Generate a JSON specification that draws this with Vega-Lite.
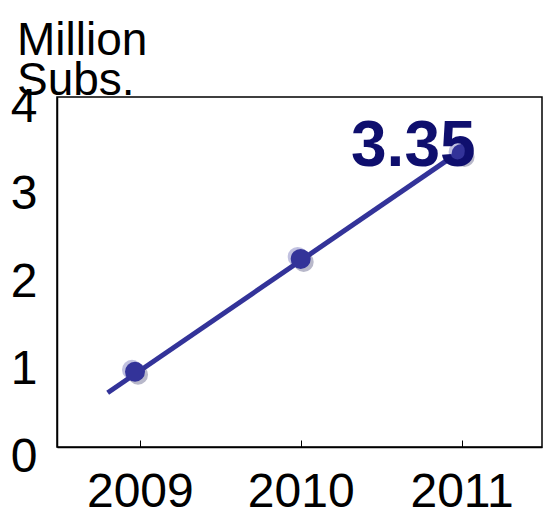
{
  "$schema": "https://vega.github.io/schema/vega-lite/v6.json",
  "width": 485,
  "height": 350,
  "autosize": {"type": "none"},
  "padding": {"left": 57, "top": 97, "right": 1, "bottom": 64},
  "background": "white",
  "config": {
    "font": "Liberation Sans",
    "view": {"stroke": "black", "strokeWidth": 1.5},
    "axis": {"grid": false, "labelColor": "black", "domainColor": "black", "tickColor": "black", "labelFont": "Liberation Sans"}
  },
  "title": {
    "text": ["Million", "Subs."],
    "anchor": "start",
    "frame": "group",
    "fontSize": 46,
    "fontWeight": "normal",
    "font": "Liberation Sans",
    "lineHeight": 40,
    "baseline": "bottom",
    "dx": -40,
    "offset": -68,
    "color": "black"
  },
  "datasets": {
    "pts": [
      {"year": 2008.97, "subs": 0.86},
      {"year": 2010, "subs": 2.15},
      {"year": 2011, "subs": 3.35}
    ],
    "fit": [
      {"year": 2008.8, "subs": 0.62},
      {"year": 2011, "subs": 3.39}
    ],
    "lbl": [
      {"year": 2011, "subs": 3.35, "label": "3.35"}
    ]
  },
  "layer": [
    {
      "data": {"name": "fit"},
      "mark": {"type": "line", "color": "#333399", "strokeWidth": 5, "strokeCap": "butt"},
      "encoding": {
        "x": {"field": "year", "type": "quantitative", "scale": {"domain": [2008.485, 2011.5], "nice": false, "zero": false},
          "axis": {"values": [2009, 2010, 2011], "format": "d", "title": null, "labelFontSize": 48, "tickSize": -7, "tickWidth": 1, "labelPadding": 28, "domainWidth": 1.5, "labelFlush": false}},
        "y": {"field": "subs", "type": "quantitative", "scale": {"domain": [0, 4], "nice": false},
          "axis": {"values": [0, 1, 2, 3, 4], "format": "d", "title": null, "labelFontSize": 48, "ticks": false, "labelPadding": 20, "labelOffset": 10, "domainWidth": 1.5, "labelFlush": false}}
      }
    },
    {
      "data": {"name": "pts"},
      "mark": {"type": "circle", "color": "#333399", "opacity": 0.3, "size": 400, "xOffset": -3, "yOffset": -2},
      "encoding": {
        "x": {"field": "year", "type": "quantitative"},
        "y": {"field": "subs", "type": "quantitative"}
      }
    },
    {
      "data": {"name": "pts"},
      "mark": {"type": "circle", "color": "#333366", "opacity": 0.35, "size": 400, "xOffset": 3, "yOffset": 3},
      "encoding": {
        "x": {"field": "year", "type": "quantitative"},
        "y": {"field": "subs", "type": "quantitative"}
      }
    },
    {
      "data": {"name": "pts"},
      "mark": {"type": "circle", "color": "#333399", "opacity": 1, "size": 400},
      "encoding": {
        "x": {"field": "year", "type": "quantitative"},
        "y": {"field": "subs", "type": "quantitative"}
      }
    },
    {
      "data": {"name": "lbl"},
      "mark": {"type": "text", "color": "#0f0f6e", "fontSize": 64, "fontWeight": "bold", "font": "Liberation Sans", "align": "right", "baseline": "alphabetic", "dx": 14, "dy": 12},
      "encoding": {
        "x": {"field": "year", "type": "quantitative"},
        "y": {"field": "subs", "type": "quantitative"},
        "text": {"field": "label"}
      }
    }
  ]
}
